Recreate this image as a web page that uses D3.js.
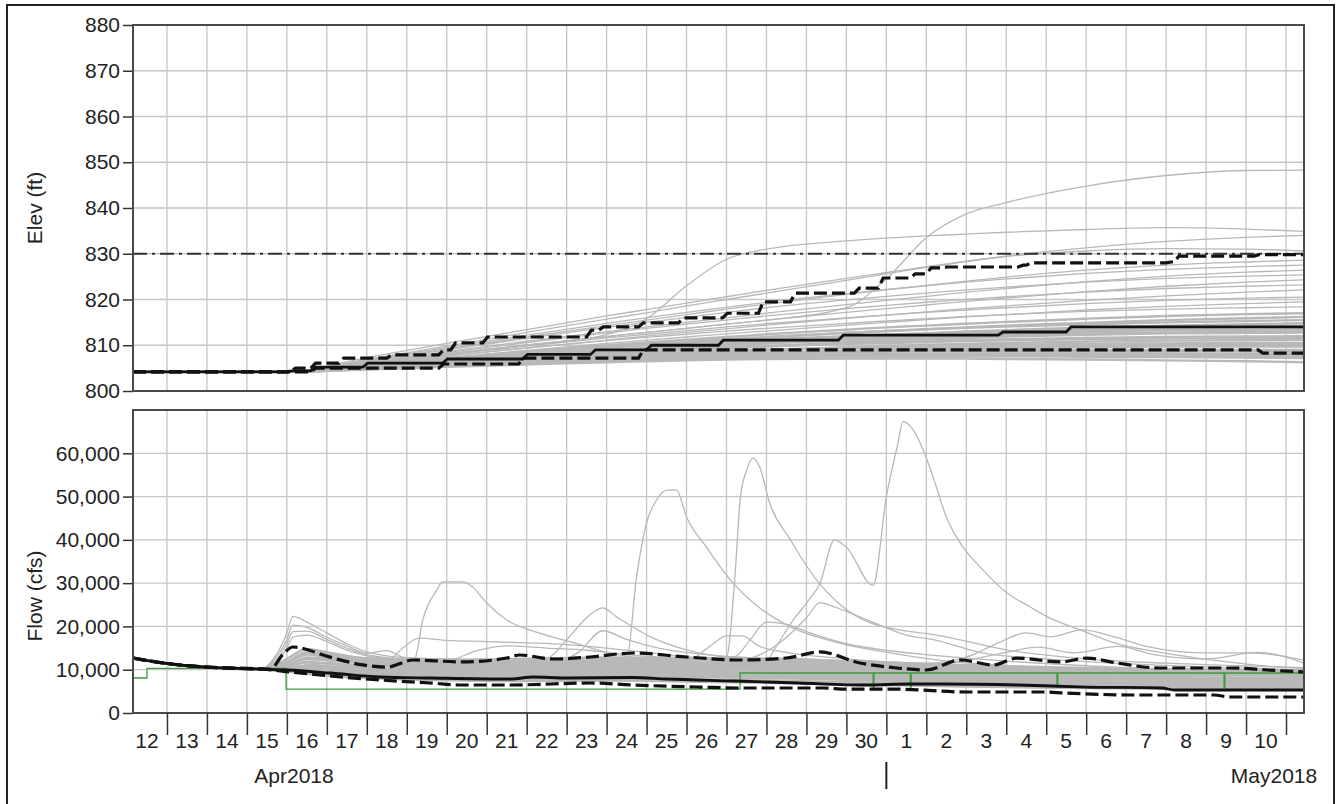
<!DOCTYPE html>
<html>
<head>
<meta charset="utf-8">
<script src="https://cdn.jsdelivr.net/npm/d3@7"></script>
<style>
  body { margin: 0; background: #fff; }
  svg text { font-family: "Liberation Sans", Arial, sans-serif; font-size: 21px; fill: #222; }
</style>
</head>
<body>
<svg id="chart" width="1343" height="804"></svg>
<script>
// time is kept as day offsets from 12 Apr 2018 00:00 (UTC)

// ---------- elevation panel ----------
const elevTicks = [800, 810, 820, 830, 840, 850, 860, 870, 880];
const elevGuide = 830;
const elevDays = [0.15, 4, 6, 8, 10, 12, 13, 14, 15, 16, 18, 19, 20, 21, 22, 24, 26, 28, 29.45];
const elevMembers = [
  [804.2, 804.2, 806.2, 808.2, 810.1, 811.9, 812.8, 813.7, 814.6, 815.5, 818.2, 824.5, 833.5, 838.7, 841.2, 844.8, 847.1, 848.2, 848.3],
  [804.2, 804.2, 806.1, 808.0, 810.0, 812.3, 815.8, 823.0, 828.8, 831.0, 832.8, 833.4, 833.9, 834.3, 834.7, 835.3, 835.7, 835.4, 834.9],
  [804.2, 804.2, 807.3, 810.4, 813.4, 816.4, 817.8, 819.2, 820.6, 822.0, 824.6, 825.9, 827.2, 828.4, 829.5, 831.3, 832.7, 833.6, 834.0],
  [804.2, 804.2, 806.9, 809.8, 812.8, 815.7, 817.1, 818.6, 820.0, 821.4, 824.2, 825.6, 827.0, 828.3, 829.4, 830.6, 831.1, 831.0, 830.6],
  [804.2, 804.2, 806.6, 809.2, 811.8, 814.3, 815.5, 816.7, 817.9, 819.0, 821.1, 822.1, 823.1, 824.0, 824.9, 826.4, 827.5, 828.2, 828.6],
  [804.2, 804.2, 806.8, 809.5, 812.2, 814.8, 816.0, 817.2, 818.3, 819.4, 821.3, 822.2, 823.0, 823.8, 824.5, 825.7, 826.6, 827.2, 827.5],
  [804.2, 804.2, 806.3, 808.6, 810.9, 813.0, 814.0, 815.0, 816.0, 817.0, 818.9, 819.8, 820.7, 821.6, 822.4, 823.9, 825.1, 826.0, 826.4],
  [804.2, 804.2, 806.5, 809.0, 811.5, 813.9, 815.0, 816.1, 817.2, 818.2, 819.9, 820.7, 821.4, 822.1, 822.7, 823.8, 824.6, 825.1, 825.4],
  [804.2, 804.2, 806.0, 808.0, 810.0, 811.9, 812.8, 813.7, 814.6, 815.5, 817.2, 818.0, 818.8, 819.6, 820.3, 821.7, 822.9, 823.8, 824.3],
  [804.2, 804.2, 806.2, 808.4, 810.6, 812.7, 813.7, 814.6, 815.5, 816.4, 818.0, 818.7, 819.4, 820.0, 820.6, 821.6, 822.4, 822.9, 823.2],
  [804.2, 804.2, 805.8, 807.6, 809.4, 811.1, 812.0, 812.8, 813.6, 814.4, 815.9, 816.6, 817.3, 818.0, 818.6, 819.8, 820.8, 821.6, 822.1],
  [804.2, 804.2, 806.0, 807.9, 809.8, 811.6, 812.4, 813.2, 814.0, 814.7, 816.0, 816.6, 817.2, 817.7, 818.2, 819.1, 819.8, 820.3, 820.5],
  [804.2, 804.2, 805.7, 807.3, 808.9, 810.4, 811.1, 811.8, 812.5, 813.1, 814.4, 815.0, 815.6, 816.2, 816.7, 817.7, 818.5, 819.1, 819.5],
  [804.2, 804.2, 805.9, 807.7, 809.4, 811.0, 811.7, 812.4, 813.1, 813.7, 814.8, 815.3, 815.8, 816.3, 816.7, 817.4, 817.9, 818.2, 818.4],
  [804.2, 804.2, 805.6, 807.1, 808.6, 810.0, 810.6, 811.2, 811.8, 812.4, 813.4, 813.9, 814.3, 814.7, 815.1, 815.8, 816.4, 816.8, 817.0],
  [804.2, 804.2, 805.4, 806.8, 808.2, 809.5, 810.1, 810.7, 811.2, 811.7, 812.7, 813.1, 813.5, 813.9, 814.3, 814.9, 815.5, 815.9, 816.2],
  [804.2, 804.2, 805.5, 806.9, 808.3, 809.6, 810.2, 810.8, 811.3, 811.8, 812.7, 813.1, 813.5, 813.8, 814.1, 814.6, 815.0, 815.3, 815.5],
  [804.2, 804.2, 805.3, 806.5, 807.7, 808.9, 809.4, 809.9, 810.4, 810.9, 811.8, 812.2, 812.6, 813.0, 813.3, 813.9, 814.3, 814.6, 814.8],
  [804.2, 804.2, 805.6, 807.0, 808.3, 809.5, 810.0, 810.5, 810.9, 811.3, 812.0, 812.3, 812.6, 812.9, 813.1, 813.5, 813.8, 814.0, 814.0],
  [804.2, 804.2, 805.2, 806.3, 807.4, 808.5, 809.0, 809.5, 810.0, 810.5, 811.4, 811.8, 812.2, 812.5, 812.8, 813.3, 813.7, 814.0, 814.2],
  [804.2, 804.2, 805.4, 806.6, 807.8, 808.9, 809.4, 809.9, 810.3, 810.7, 811.5, 811.8, 812.1, 812.4, 812.6, 813.0, 813.3, 813.4, 813.5],
  [804.2, 804.2, 805.3, 806.4, 807.5, 808.6, 809.1, 809.6, 810.0, 810.4, 811.1, 811.4, 811.7, 812.0, 812.2, 812.6, 812.8, 812.9, 813.0],
  [804.2, 804.2, 805.1, 806.1, 807.1, 808.1, 808.6, 809.0, 809.4, 809.8, 810.6, 811.0, 811.3, 811.6, 811.9, 812.3, 812.6, 812.7, 812.8],
  [804.2, 804.2, 805.2, 806.3, 807.3, 808.3, 808.7, 809.1, 809.5, 809.8, 810.4, 810.7, 810.9, 811.1, 811.3, 811.6, 811.8, 811.9, 812.0],
  [804.2, 804.2, 805.3, 806.4, 807.4, 808.3, 808.7, 809.1, 809.4, 809.7, 810.3, 810.5, 810.7, 810.9, 811.1, 811.3, 811.5, 811.6, 811.6],
  [804.2, 804.2, 805.0, 805.9, 806.8, 807.6, 808.0, 808.3, 808.7, 809.0, 809.6, 809.9, 810.1, 810.3, 810.5, 810.8, 811.0, 811.1, 811.2],
  [804.2, 804.2, 805.1, 806.0, 806.9, 807.7, 808.0, 808.3, 808.6, 808.9, 809.4, 809.6, 809.8, 810.0, 810.1, 810.3, 810.4, 810.5, 810.5],
  [804.2, 804.2, 805.2, 806.2, 807.1, 807.9, 808.2, 808.5, 808.8, 809.0, 809.4, 809.5, 809.6, 809.7, 809.8, 809.9, 810.0, 810.0, 810.0],
  [804.2, 804.2, 804.9, 805.7, 806.5, 807.2, 807.5, 807.8, 808.1, 808.3, 808.8, 809.0, 809.2, 809.3, 809.4, 809.6, 809.7, 809.7, 809.7],
  [804.2, 804.2, 805.0, 805.8, 806.6, 807.3, 807.6, 807.9, 808.1, 808.3, 808.6, 808.7, 808.8, 808.9, 809.0, 809.0, 809.0, 809.0, 809.0],
  [804.2, 804.2, 805.0, 805.9, 806.7, 807.4, 807.7, 807.9, 808.1, 808.3, 808.5, 808.6, 808.6, 808.7, 808.7, 808.7, 808.7, 808.6, 808.6],
  [804.2, 804.2, 804.8, 805.5, 806.2, 806.8, 807.1, 807.4, 807.6, 807.8, 808.0, 808.1, 808.1, 808.2, 808.2, 808.2, 808.2, 808.1, 808.1],
  [804.2, 804.2, 805.0, 805.8, 806.5, 807.1, 807.4, 807.6, 807.8, 807.9, 808.0, 808.0, 808.0, 808.0, 807.9, 807.9, 807.8, 807.7, 807.7],
  [804.2, 804.2, 804.8, 805.5, 806.1, 806.6, 806.9, 807.1, 807.3, 807.4, 807.6, 807.6, 807.6, 807.6, 807.6, 807.5, 807.4, 807.3, 807.2],
  [804.2, 804.2, 804.7, 805.3, 805.8, 806.3, 806.5, 806.7, 806.9, 807.0, 807.1, 807.1, 807.1, 807.1, 807.0, 806.9, 806.7, 806.5, 806.3]
];
const elevUpperT = [0.15, 4.0, 4.1, 4.6, 5.3, 6.5, 7.8, 8.1, 8.9, 11.5, 11.8, 12.8, 13.8, 14.9, 15.8, 16.6, 18.2, 18.8, 19.6, 20.0, 20.4, 22.3, 22.5, 26.0, 26.2, 28.2, 29.45];
const elevUpperV = [804.2, 804.4, 805.0, 806.1, 807.2, 807.9, 809.0, 810.5, 811.8, 813.3, 814.0, 814.9, 816.0, 817.0, 819.5, 821.4, 822.5, 824.7, 825.6, 826.9, 827.1, 827.5, 828.0, 828.2, 829.5, 829.8, 829.8];
const elevMedT = [0.15, 4.0, 4.6, 5.9, 7.9, 9.9, 11.6, 13.0, 14.8, 17.8, 21.8, 23.5, 29.45];
const elevMedV = [804.2, 804.4, 805.2, 806.1, 807.0, 808.0, 809.0, 810.0, 811.1, 812.2, 812.9, 814.0, 814.0];
const elevLowerT = [0.15, 4.6, 7.8, 9.8, 12.8, 28.3, 29.45];
const elevLowerV = [804.2, 805.0, 805.9, 807.2, 809.0, 808.3, 808.3];

// ---------- flow panel ----------
const flowTicks = [0, 10000, 20000, 30000, 40000, 50000, 60000];
const flowDays = [0.15, 1, 2, 3, 3.5, 4, 4.5, 5, 6, 8, 10, 12, 14, 16, 18, 20, 22, 24, 26, 28, 29.45];
const flowBand = [
  [12700, 11450, 10600, 10200, 10300, 12500, 14800, 14000, 12500, 11800, 12000, 12200, 12300, 12000, 11500, 10800, 10500, 10300, 10000, 9800, 9700],
  [12700, 11450, 10600, 10200, 10150, 11500, 13500, 13000, 12000, 11500, 11500, 11800, 11700, 11500, 11000, 10500, 10200, 10000, 9800, 9600, 9500],
  [12700, 11450, 10600, 10200, 10100, 11000, 12500, 12200, 11500, 11000, 11200, 11300, 11200, 11000, 10500, 10000, 9700, 9500, 9300, 9200, 9100],
  [12700, 11450, 10600, 10200, 10100, 10500, 11800, 11500, 11000, 10600, 10700, 10800, 10700, 10500, 10000, 9600, 9300, 9000, 8800, 8700, 8600],
  [12700, 11450, 10600, 10200, 10100, 10200, 11000, 10800, 10300, 10000, 10200, 10300, 10200, 9900, 9500, 9000, 8700, 8400, 8200, 8100, 8000],
  [12700, 11450, 10600, 10200, 10050, 10000, 10300, 10000, 9700, 9500, 9600, 9700, 9500, 9200, 8800, 8400, 8100, 7800, 7600, 7500, 7400],
  [12700, 11450, 10600, 10200, 10050, 9900, 9800, 9600, 9200, 9000, 9000, 9100, 8900, 8600, 8200, 7800, 7500, 7200, 7000, 6900, 6800],
  [12700, 11450, 10600, 10200, 10000, 9800, 9500, 9200, 8800, 8500, 8500, 8600, 8400, 8100, 7700, 7300, 7000, 6700, 6500, 6300, 6200],
  [12700, 11450, 10600, 10200, 10000, 9700, 9300, 8900, 8400, 8000, 7900, 8000, 7800, 7500, 7100, 6800, 6500, 6200, 6000, 5800, 5700],
  [12700, 11450, 10600, 10200, 10000, 9600, 9100, 8700, 8100, 7600, 7400, 7500, 7300, 7000, 6600, 6300, 6000, 5800, 5600, 5400, 5300],
  [12700, 11450, 10600, 10200, 10100, 10800, 12800, 12600, 11800, 11200, 11000, 11000, 10800, 10500, 10300, 10000, 9500, 9200, 9000, 8900, 8800],
  [12700, 11450, 10600, 10200, 10050, 10300, 10800, 10500, 10000, 9800, 9800, 10000, 10000, 9700, 9300, 8900, 8600, 8200, 8000, 7800, 7700],
  [12700, 11450, 10600, 10200, 10000, 9900, 10000, 9800, 9400, 9200, 9300, 9400, 9300, 9000, 8600, 8200, 7800, 7500, 7300, 7200, 7100],
  [12700, 11450, 10600, 10200, 10000, 9800, 9700, 9400, 9000, 8700, 8700, 8800, 8700, 8400, 8000, 7600, 7300, 7000, 6800, 6600, 6500],
  [12700, 11450, 10600, 10200, 10100, 11800, 14000, 13500, 12600, 12300, 12500, 12800, 12700, 12400, 12000, 11300, 10800, 10400, 10100, 9900, 9700]
];
// members with storm peaks, each with its own times
const flowPeakT = [
  [0.15, 1, 2, 3, 3.4, 3.7, 4.0, 4.15, 4.5, 5.0, 5.5, 6.0, 6.5, 7.0, 8, 10, 12, 14, 17, 21, 25, 29.45],
  [0.15, 1, 2, 3, 3.4, 3.7, 4.0, 4.15, 4.5, 5.0, 5.5, 6.0, 6.5, 7.0, 8, 10, 12, 14, 17, 21, 25, 29.45],
  [0.15, 1, 2, 3, 3.4, 3.7, 4.0, 4.15, 4.5, 5.0, 5.5, 6.0, 6.5, 7.0, 8, 10, 12, 14, 17, 21, 25, 29.45],
  [0.15, 1, 2, 3, 3.4, 3.7, 4.0, 4.15, 4.5, 5.0, 5.5, 6.0, 6.5, 7.0, 8, 10, 12, 14, 17, 21, 25, 29.45],
  [0.15, 1, 2, 3, 3.5, 4.5, 6, 7, 7.2, 7.4, 7.75, 7.9, 8.4, 8.65, 9.0, 9.5, 10.3, 11.2, 12, 13, 14, 16, 18, 20, 22, 25, 29.45],
  [0.15, 1, 2, 3, 3.5, 4.5, 8, 10, 12, 12.5, 12.75, 13.0, 13.25, 13.5, 13.75, 14.0, 14.5, 15.1, 15.8, 16.6, 17.8, 19.1, 20.5, 22, 24, 26, 29.45],
  [0.15, 1, 2, 3, 3.5, 4.5, 8, 10, 12, 14, 15.0, 15.2, 15.35, 15.5, 15.67, 15.83, 16.08, 16.6, 17.2, 17.8, 18.6, 20.5, 22, 24, 26, 29.45],
  [0.15, 1, 2, 3, 3.5, 4.5, 8, 10, 12, 14, 15.8, 16.3, 16.67, 17.0, 17.34, 17.7, 18.0, 18.67, 19.0, 19.27, 19.42, 19.67, 19.92, 20.17, 20.5, 20.92, 21.35, 22.02, 22.6, 23.03, 23.85, 24.7, 25.93, 27.18, 28.85, 29.45],
  [0.15, 1, 2, 3, 3.5, 4.5, 8, 10, 10.5, 11.0, 11.5, 11.9, 12.25, 13.1, 14.0, 15, 17, 19, 22, 25, 29.45],
  [0.15, 1, 2, 3, 3.5, 4.5, 8, 10.5, 11.3, 11.9, 12.5, 13.3, 14.5, 16, 18, 21, 25, 29.45],
  [0.15, 1, 2, 3, 3.5, 4.5, 10, 14, 15.2, 15.6, 16.0, 16.5, 17, 18, 19, 20, 22, 25, 29.45],
  [0.15, 1, 2, 3, 3.5, 4.5, 10, 14, 14.6, 15.0, 15.4, 15.8, 16.5, 18, 21, 25, 29.45],
  [0.15, 1, 2, 3, 3.5, 4.5, 10, 14, 15.5, 16.3, 17, 17.34, 17.7, 18.7, 19.5, 20.2, 21.4, 23, 26, 29.45],
  [0.15, 1, 2, 3, 3.5, 4.5, 10, 16, 20, 21, 21.8, 22.5, 23.1, 23.9, 24.7, 25.6, 26.9, 28.1, 29.45],
  [0.15, 1, 2, 3, 3.5, 4.5, 12, 18, 20.5, 22, 22.8, 23.7, 24.8, 25.7, 27, 28.3, 28.9, 29.45],
  [0.15, 1, 2, 3, 3.5, 4.5, 5.5, 6.5, 6.9, 7.3, 8, 9, 10, 11, 12, 13, 14, 16, 19, 23, 29.45],
  [0.15, 1, 2, 3, 3.5, 4.5, 7, 8, 8.8, 9.5, 10.5, 11.5, 12.5, 14, 17, 21, 25, 29.45]
];
const flowPeakV = [
  [12700, 11450, 10600, 10200, 10300, 13000, 18500, 22300, 21000, 18500, 16000, 14100, 13200, 12800, 12500, 11800, 11500, 11000, 10500, 9800, 9200, 8800],
  [12700, 11450, 10600, 10200, 10200, 12500, 17000, 20300, 19800, 17500, 15500, 13800, 14400, 12600, 12300, 12000, 11700, 11200, 10800, 10000, 9400, 9000],
  [12700, 11450, 10600, 10200, 10150, 12000, 16000, 18800, 18900, 17000, 15000, 13500, 12800, 12400, 12000, 11500, 11200, 10800, 10300, 9700, 9100, 8700],
  [12700, 11450, 10600, 10200, 10100, 11500, 15000, 17500, 18000, 16500, 14500, 13200, 12500, 12200, 11800, 11400, 11000, 10600, 10100, 9500, 9000, 8600],
  [12700, 11450, 10600, 10200, 10100, 11500, 11000, 11800, 12500, 21500, 28400, 30300, 30300, 29100, 25400, 21500, 18500, 16200, 14000, 12500, 11800, 11000, 10000, 9500, 9000, 8500, 8000],
  [12700, 11450, 10600, 10200, 10100, 10000, 10500, 11000, 11500, 12200, 31400, 43900, 49200, 51500, 51500, 45300, 38300, 30700, 24500, 19900, 16200, 13900, 12000, 11000, 10000, 9500, 9000],
  [12700, 11450, 10600, 10200, 10100, 10500, 11000, 11500, 12000, 12500, 13000, 30000, 50000, 56000, 58900, 56800, 48500, 40000, 31400, 25400, 20800, 17600, 14600, 12500, 11500, 10500],
  [12700, 11450, 10600, 10200, 10100, 9500, 9800, 10000, 10000, 10000, 10000, 16200, 21500, 25400, 30000, 40000, 38300, 29500, 50000, 61500, 67300, 65400, 60800, 54500, 45300, 38300, 33700, 27700, 24500, 22200, 19200, 16200, 13900, 12200, 10600, 10300],
  [12700, 11450, 10600, 10200, 10100, 11000, 11500, 11800, 12500, 16900, 22000, 24300, 22200, 17600, 14600, 13000, 12500, 11500, 10500, 10000, 9500],
  [12700, 11450, 10600, 10200, 10100, 10500, 11000, 11500, 14000, 19000, 17000, 15000, 13500, 12500, 11500, 10500, 9500, 9000],
  [12700, 11450, 10600, 10200, 10100, 10500, 11500, 12500, 13000, 17000, 21000, 20500, 18800, 16000, 14500, 13500, 12000, 10500, 9500],
  [12700, 11450, 10600, 10200, 10100, 10000, 11000, 12000, 15500, 17800, 17800, 15500, 14000, 12500, 11000, 10000, 9000],
  [12700, 11450, 10600, 10200, 10100, 10000, 11000, 11500, 12500, 16000, 22000, 25500, 24500, 20800, 18000, 16900, 13900, 12500, 11000, 10000],
  [12700, 11450, 10600, 10200, 10100, 10000, 11000, 11500, 11500, 12900, 16200, 18500, 17600, 19200, 17600, 15200, 13900, 13900, 12200],
  [12700, 11450, 10600, 10200, 10100, 10000, 10500, 10500, 11500, 14000, 15200, 13900, 15400, 13500, 12500, 14000, 13200, 11500],
  [12700, 11450, 10600, 10200, 10100, 11000, 12000, 12000, 15000, 17300, 16800, 16500, 16200, 15800, 15000, 14000, 13000, 12000, 11000, 10000, 9000],
  [12700, 11450, 10600, 10200, 10100, 10500, 11500, 12000, 14500, 15500, 15000, 14500, 13500, 12500, 11500, 10500, 10000, 9500]
];
const flowUpperT = [0.15, 0.9, 2.0, 3.4, 3.58, 3.9, 4.15, 5.08, 5.9, 6.5, 7.16, 8.4, 9.5, 9.83, 10.66, 11.6, 12.66, 14.0, 15.34, 16.5, 17.34, 18.34, 19.27, 20.0, 20.85, 21.67, 22.27, 23.35, 24.02, 24.77, 25.85, 27.6, 28.53, 29.45];
const flowUpperV = [12700, 11550, 10600, 10150, 10100, 13500, 15250, 12900, 11100, 10600, 12240, 11800, 12700, 13400, 12470, 12940, 13860, 12940, 12240, 12700, 14100, 11550, 10400, 9930, 12240, 11100, 12700, 11800, 12700, 11550, 10400, 10400, 9930, 9470];
const flowMedT = [0.15, 0.9, 2.0, 3.4, 4.0, 5.08, 6.33, 7.6, 9.6, 10.16, 11.0, 12.66, 13.5, 15.2, 16.8, 18.5, 19.6, 20.4, 22.3, 24.0, 25.9, 26.2, 29.45];
const flowMedV = [12700, 11550, 10600, 10150, 9930, 9240, 8320, 8090, 7850, 8320, 8090, 8200, 7850, 7390, 6930, 6470, 6700, 6700, 6470, 6000, 5780, 5310, 5310];
const flowLowerT = [0.15, 0.9, 2.0, 3.4, 4.08, 5.08, 6.33, 7.6, 8.4, 9.6, 11.6, 12.66, 14.3, 15.3, 17.4, 18.0, 19.3, 21.0, 22.9, 23.5, 25.1, 27.2, 27.6, 29.45];
const flowLowerV = [12700, 11550, 10600, 10150, 9470, 8550, 7620, 6930, 6470, 6470, 6930, 6470, 6000, 5780, 5780, 5500, 5500, 4850, 4850, 4620, 4160, 4160, 3700, 3700];
const greenT = [0.15, 0.5, 3.98, 15.34, 18.67, 18.69, 19.6, 19.62, 23.27, 23.29, 27.45, 27.47, 29.45];
const greenV = [8090, 10300, 5500, 9240, 6000, 9240, 6000, 9240, 6000, 9240, 6000, 9240, 9240];

// ---------- scales ----------
const DAY = 864e5;
const day0 = Date.UTC(2018, 3, 12);
const toDate = t => new Date(day0 + t * DAY);

const left = 133, right = 1304;
const x = d3.scaleUtc().domain([toDate(0.15), toDate(29.45)]).range([left, right]);
const yElev = d3.scaleLinear().domain([800, 880]).range([391, 25]);
const yFlow = d3.scaleLinear().domain([0, 70000]).range([713, 410]);

const midnights = d3.utcDay.range(toDate(1), toDate(29.46));
const labelDays = d3.utcDay.range(toDate(0), toDate(29));

const svg = d3.select("#chart");
svg.append("rect").attr("width", 1343).attr("height", 804).attr("fill", "#fff");

function lineFor(y, curve) {
  return d3.line()
    .x(d => x(toDate(d[0])))
    .y(d => y(d[1]))
    .curve(curve);
}

// stair steps with short slanted risers, like the simulation output
function stairs(T, V, rise) {
  const pts = [[T[0], V[0]]];
  for (let i = 1; i < T.length; i++) {
    pts.push([T[i], V[i - 1]]);
    pts.push([Math.min(T[i] + rise, T[T.length - 1]), V[i]]);
  }
  return pts;
}

function panel(y, ticks, fmt, id) {
  const [bottom, top] = y.range();
  svg.append("clipPath").attr("id", id)
    .append("rect").attr("x", left).attr("y", top).attr("width", right - left).attr("height", bottom - top);

  const grid = svg.append("g");
  grid.selectAll(".h").data(ticks.filter(v => y(v) > top + 1 && y(v) < bottom - 1))
    .join("line")
    .attr("x1", left).attr("x2", right)
    .attr("y1", d => y(d)).attr("y2", d => y(d))
    .attr("stroke", "#c6c6c6").attr("stroke-width", 1.3);
  grid.selectAll(".v").data(midnights)
    .join("line")
    .attr("x1", d => x(d)).attr("x2", d => x(d))
    .attr("y1", top).attr("y2", bottom)
    .attr("stroke", "#c6c6c6").attr("stroke-width", 1.3);

  const ax = svg.append("g")
    .attr("transform", `translate(${left},0)`)
    .call(d3.axisLeft(y).tickValues(ticks).tickSize(10).tickPadding(3).tickFormat(fmt));
  ax.select(".domain").remove();
  ax.selectAll(".tick line").attr("stroke", "#333").attr("stroke-width", 1.5);
  ax.selectAll(".tick text").attr("font-size", null).attr("font-family", null).attr("fill", "#222");

  return svg.append("g").attr("clip-path", `url(#${id})`);
}

// ---------- elevation ----------
const gE = panel(yElev, elevTicks, d3.format("d"), "clipElev");
const elevLine = lineFor(yElev, d3.curveMonotoneX);
gE.selectAll(".member").data(elevMembers)
  .join("path")
  .attr("d", vals => elevLine(d3.zip(elevDays, vals)))
  .attr("fill", "none").attr("stroke", "#b8b8b8")
  .attr("stroke-width", vals => vals[vals.length - 1] < 817.5 ? 2.4 : 1.3);

gE.append("line")
  .attr("x1", left).attr("x2", right)
  .attr("y1", yElev(elevGuide)).attr("y2", yElev(elevGuide))
  .attr("stroke", "#333").attr("stroke-width", 1.8)
  .attr("stroke-dasharray", "14,5,3,5");

const elevStair = lineFor(yElev, d3.curveLinear);
gE.append("path").attr("d", elevStair(stairs(elevLowerT, elevLowerV, 0.12)))
  .attr("fill", "none").attr("stroke", "#111").attr("stroke-width", 3.2).attr("stroke-dasharray", "13,5");
gE.append("path").attr("d", elevStair(stairs(elevMedT, elevMedV, 0.12)))
  .attr("fill", "none").attr("stroke", "#111").attr("stroke-width", 2.8);
gE.append("path").attr("d", elevStair(stairs(elevUpperT, elevUpperV, 0.12)))
  .attr("fill", "none").attr("stroke", "#111").attr("stroke-width", 3.2).attr("stroke-dasharray", "13,5");

// ---------- flow ----------
const gF = panel(yFlow, flowTicks, d3.format(","), "clipFlow");
const flowLine = lineFor(yFlow, d3.curveMonotoneX);
gF.selectAll(".band").data(flowBand)
  .join("path")
  .attr("d", vals => flowLine(d3.zip(flowDays, vals)))
  .attr("fill", "none").attr("stroke", "#b8b8b8").attr("stroke-width", 2.6);
gF.selectAll(".peak").data(d3.zip(flowPeakT, flowPeakV))
  .join("path")
  .attr("d", d => flowLine(d3.zip(d[0], d[1])))
  .attr("fill", "none").attr("stroke", "#b8b8b8").attr("stroke-width", 1.3);

gF.append("path").attr("d", lineFor(yFlow, d3.curveStepAfter)(d3.zip(greenT, greenV)))
  .attr("fill", "none").attr("stroke", "#3c9c3c").attr("stroke-width", 1.3);

gF.append("path").attr("d", flowLine(d3.zip(flowLowerT, flowLowerV)))
  .attr("fill", "none").attr("stroke", "#111").attr("stroke-width", 3.2).attr("stroke-dasharray", "13,5");
gF.append("path").attr("d", flowLine(d3.zip(flowMedT, flowMedV)))
  .attr("fill", "none").attr("stroke", "#111").attr("stroke-width", 2.8);
gF.append("path").attr("d", flowLine(d3.zip(flowUpperT, flowUpperV)))
  .attr("fill", "none").attr("stroke", "#111").attr("stroke-width", 3.2).attr("stroke-dasharray", "13,5");

// ---------- frames ----------
[[25, 391], [410, 713]].forEach(([t, b]) => {
  svg.append("rect").attr("x", left).attr("y", t).attr("width", right - left).attr("height", b - t)
    .attr("fill", "none").attr("stroke", "#4a4a4a").attr("stroke-width", 2);
});
svg.append("rect").attr("x", 7).attr("y", 5).attr("width", 1327).attr("height", 820)
  .attr("fill", "none").attr("stroke", "#222").attr("stroke-width", 2);

// ---------- time axis ----------
const xa = svg.append("g").attr("transform", "translate(0,713)")
  .call(d3.axisBottom(x).tickValues(midnights).tickSize(22).tickFormat(""));
xa.select(".domain").remove();
xa.selectAll(".tick line").attr("stroke", "#333").attr("stroke-width", 1.5);

svg.append("g").selectAll("text").data(labelDays)
  .join("text")
  .attr("x", d => x(new Date(+d + DAY / 2)))
  .attr("y", 748)
  .attr("text-anchor", "middle")
  .text(d => d.getUTCDate());

svg.append("line")
  .attr("x1", x(toDate(19))).attr("x2", x(toDate(19)))
  .attr("y1", 762).attr("y2", 789)
  .attr("stroke", "#222").attr("stroke-width", 2);
svg.append("text").attr("x", 294).attr("y", 783).attr("text-anchor", "middle").text("Apr2018");
svg.append("text").attr("x", 1274).attr("y", 783).attr("text-anchor", "middle").text("May2018");

// ---------- axis titles ----------
svg.append("text").attr("transform", "translate(42,208) rotate(-90)")
  .attr("text-anchor", "middle").text("Elev (ft)");
svg.append("text").attr("transform", "translate(42,596) rotate(-90)")
  .attr("text-anchor", "middle").text("Flow (cfs)");
</script>
</body>
</html>
